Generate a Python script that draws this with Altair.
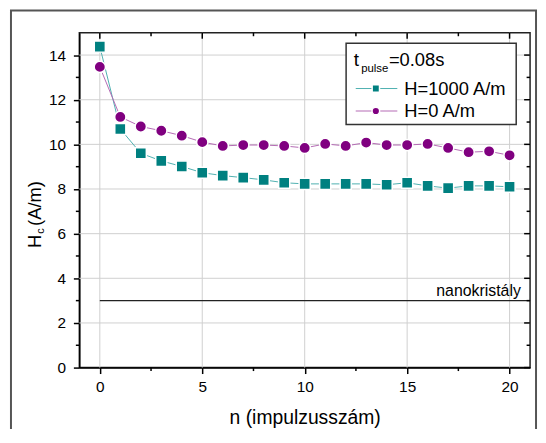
import altair as alt
import pandas as pd

FONT = "Liberation Sans"

# ---- data ----
n_pulses = list(range(21))
hc_h1000 = [14.38, 10.69, 9.60, 9.26, 9.01, 8.73, 8.60, 8.51, 8.41, 8.28, 8.23,
            8.23, 8.23, 8.23, 8.19, 8.28, 8.14, 8.04, 8.14, 8.14, 8.10]
hc_h0 = [13.47, 11.23, 10.80, 10.61, 10.39, 10.10, 9.93, 9.97, 9.97, 9.93, 9.84,
         10.02, 9.93, 10.08, 9.97, 9.97, 10.02, 9.84, 9.65, 9.69, 9.51]
series_names = ["H=1000 A/m", "H=0 A/m"]
legend_title = ["t", "pulse", "=0.08s"]
nano_label = "nanokristály"
nano_level = [3]
nano_from = [0]
nano_to = [21]
nano_label_x = [20.55]
x_major = [0, 5, 10, 15, 20]
x_minor = [2.5, 7.5, 12.5, 17.5]
y_major = [0, 2, 4, 6, 8, 10, 12, 14]
y_minor = [1, 3, 5, 7, 9, 11, 13]

# ---- styles ----
W, H = 455, 338
TEAL, TEAL_LINE = "#008080", "#4fb0b0"
PURPLE, PURPLE_LINE = "#800080", "#b46ab4"
XTITLE = "n (impulzusszám)"
GRID = "#cfcfcf"

xs = alt.Scale(domain=[-1, 21], nice=False, zero=False)
ys = alt.Scale(domain=[0, 15], nice=False, zero=False)

x_axis = alt.Axis(values=x_major, format="d", tickSize=6, tickWidth=1.5, tickColor="black",
                  domainColor="black", domainWidth=1.5, grid=False,
                  labelFont=FONT, labelFontSize=15.5, labelColor="black",
                  labelPadding=6, titleFont=FONT, titleFontSize=19.5, titleFontWeight="normal",
                  titleColor="black", titlePadding=14)
y_axis = alt.Axis(values=y_major, format="d", tickSize=6, tickWidth=1.5, tickColor="black",
                  domainColor="black", domainWidth=1.5, grid=False,
                  labelFont=FONT, labelFontSize=15.5, labelColor="black",
                  labelPadding=8)


def Xf(field):
    return alt.X(f"{field}:Q", scale=xs, axis=x_axis, title=XTITLE)


def Yf(field):
    return alt.Y(f"{field}:Q", scale=ys, axis=y_axis, title="")


df = pd.DataFrame({"n": n_pulses, "h1000": hc_h1000, "h0": hc_h0})
one = pd.DataFrame({"a": [0]})

# grid lines drawn as rules at the major tick values
gx = alt.Chart(pd.DataFrame({"gx": x_major})).mark_rule(stroke=GRID, strokeWidth=1, opacity=1).encode(
    x=Xf("gx"), y=alt.value(0), y2=alt.value(H))
gy = alt.Chart(pd.DataFrame({"gy": y_major[1:]})).mark_rule(stroke=GRID, strokeWidth=1, opacity=1).encode(
    y=Yf("gy"), x=alt.value(0), x2=alt.value(W))

frame = alt.Chart(one).mark_rect(fillOpacity=0, stroke="#555555", strokeWidth=2).encode(
    x=alt.value(-69), x2=alt.value(461), y=alt.value(-22.5), y2=alt.value(500))

line1 = alt.Chart(df).mark_line(color=TEAL_LINE, strokeWidth=1).encode(x=Xf("n"), y=Yf("h1000"))
pts1 = alt.Chart(df).mark_point(shape="square", filled=True, size=125, fill=TEAL,
                                stroke="white", strokeWidth=1.5, opacity=1).encode(
    x=Xf("n"), y=Yf("h1000"))
line0 = alt.Chart(df).mark_line(color=PURPLE_LINE, strokeWidth=1).encode(x=Xf("n"), y=Yf("h0"))
pts0 = alt.Chart(df).mark_point(shape="circle", filled=True, size=130, fill=PURPLE,
                                stroke="white", strokeWidth=1.5, opacity=1).encode(
    x=Xf("n"), y=Yf("h0"))

# nanocrystal reference line
nano_df = pd.DataFrame({"x0": nano_from, "x1": nano_to, "lvl": nano_level, "xt": nano_label_x})
nano_rule = alt.Chart(nano_df).mark_rule(color="#222222", strokeWidth=1.5).encode(
    x=Xf("x0"), x2="x1:Q", y=Yf("lvl"))
nano_text = alt.Chart(nano_df).mark_text(text=nano_label, font=FONT, fontSize=16, align="right",
                                         baseline="alphabetic", dy=-5, color="black").encode(
    x=Xf("xt"), y=Yf("lvl"))


# minor / mirrored ticks
def xticks(vals, y0, y1):
    d = pd.DataFrame({"v": vals})
    return alt.Chart(d).mark_rule(color="black", strokeWidth=1.5).encode(
        x=Xf("v"), y=alt.value(y0), y2=alt.value(y1))


def yticks(vals, x0, x1):
    d = pd.DataFrame({"v": vals})
    return alt.Chart(d).mark_rule(color="black", strokeWidth=1.5).encode(
        y=Yf("v"), x=alt.value(x0), x2=alt.value(x1))


ticks = [
    xticks(x_minor, H, H + 3.5),
    xticks(x_major, 0, 6),
    xticks(x_minor, 0, 3.5),
    yticks(y_minor, 0, -3.5),
    yticks(y_major, W, W - 6),
    yticks(y_minor, W, W - 3.5),
]


def txt(text, x, y, size, **kw):
    return alt.Chart(one).mark_text(text=text, font=FONT, fontSize=size, color="black",
                                    baseline="alphabetic", **kw).encode(
        x=alt.value(x), y=alt.value(y))


# y title with subscript
ytitle = [
    txt("H", -38.3, 217.3, 18.5, angle=270, align="left"),
    txt("c", -36, 203, 11, angle=270, align="left"),
    txt("(A/m)", -38.3, 195, 18.5, angle=270, align="left"),
]

# legend
leg_box = alt.Chart(one).mark_rect(fill="white", stroke="#333333", strokeWidth=1.5).encode(
    x=alt.value(269.3), x2=alt.value(441), y=alt.value(10.7), y2=alt.value(92.7))
legend = [
    leg_box,
    txt(legend_title[0], 277, 33.3, 19, align="left"),
    txt(legend_title[1], 284.5, 40, 11.5, align="left"),
    txt(legend_title[2], 312.5, 33.3, 18.5, align="left"),
    alt.Chart(one).mark_rule(color=TEAL_LINE, strokeWidth=1).encode(
        x=alt.value(279), x2=alt.value(321), y=alt.value(56.3)),
    alt.Chart(one).mark_point(shape="square", filled=True, size=55, fill=TEAL, stroke="white",
                              strokeWidth=1.5, opacity=1).encode(x=alt.value(299.3), y=alt.value(56.3)),
    txt(series_names[0], 328, 62.5, 18.5, align="left"),
    alt.Chart(one).mark_rule(color=PURPLE_LINE, strokeWidth=1).encode(
        x=alt.value(279), x2=alt.value(321), y=alt.value(79)),
    alt.Chart(one).mark_point(shape="circle", filled=True, size=60, fill=PURPLE, stroke="white",
                              strokeWidth=1.5, opacity=1).encode(x=alt.value(299.3), y=alt.value(79)),
    txt(series_names[1], 328, 85.2, 18.5, align="left"),
]

chart = alt.layer(
    gx, gy, line1, line0, pts1, pts0, nano_rule, nano_text, frame, *ticks, *ytitle, *legend
).properties(
    width=W, height=H,
    autosize=alt.AutoSizeParams(type="none"),
    padding={"left": 72, "top": 23, "right": 8, "bottom": 60},
    background="white",
).configure_view(stroke="#222222", strokeWidth=1.5)

chart.save("out.html", embed_options={"renderer": "svg", "actions": False})
